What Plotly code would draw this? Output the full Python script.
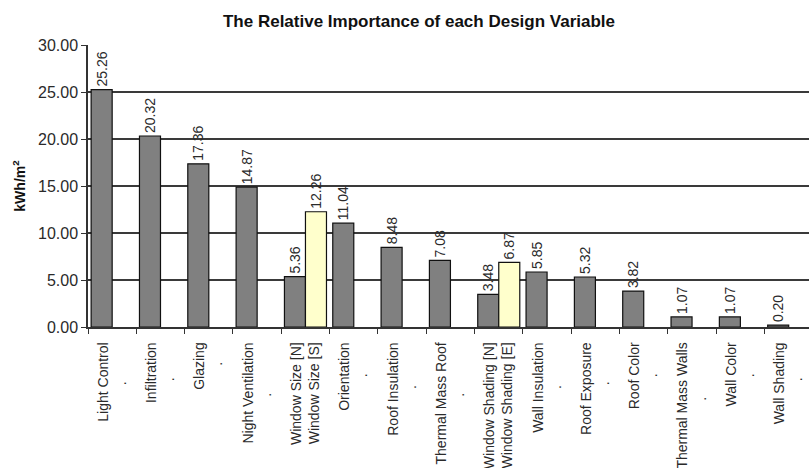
import plotly.graph_objects as go

label_lines = [
    ["Light Control"], ["Infiltration"], ["Glazing"], ["Night Ventilation"],
    ["Window Size [N]", "Window Size [S]"], ["Orientation"], ["Roof Insulation"],
    ["Thermal Mass Roof"], ["Window Shading [N]", "Window Shading [E]"],
    ["Wall Insulation"], ["Roof Exposure"], ["Roof Color"], ["Thermal Mass Walls"],
    ["Wall Color"], ["Wall Shading"],
]
primary_values = [25.26, 20.32, 17.36, 14.87, 5.36, 11.04, 8.48, 7.08,
                  3.48, 5.85, 5.32, 3.82, 1.07, 1.07, 0.20]
secondary_values = [None, None, None, None, 12.26, None, None, None,
                    6.87, None, None, None, None, None, None]
y_ticks = [0, 5, 10, 15, 20, 25, 30]


def make_label(lines):
    # single-line labels carry a centred "." second line, as in the source chart
    if len(lines) == 1:
        pad = "\u00a0" * round(len(lines[0]) * 0.75)
        return lines[0] + "<br>." + pad
    return "<br>".join(lines)


categories = [make_label(l) for l in label_lines]

font_family = "Liberation Sans, Arial, sans-serif"
text_color = "#2a2a2a"

fig = go.Figure()
for vals, color in ((primary_values, "#808080"), (secondary_values, "#FFFFCC")):
    fig.add_trace(go.Bar(
        x=categories, y=vals,
        marker=dict(color=color, line=dict(color="#111111", width=1.2)),
        texttemplate="%{y:.2f}", textposition="outside", textangle=-90,
        constraintext="none",
        textfont=dict(size=14, color=text_color, family=font_family),
        cliponaxis=False, showlegend=False,
    ))

fig.update_layout(
    width=809, height=468,
    margin=dict(l=88, r=0, t=45, b=141),
    paper_bgcolor="white", plot_bgcolor="white",
    barmode="group", bargap=0.13, bargroupgap=0.0,
    font=dict(family=font_family, color=text_color),
    title=dict(
        text="<b>The Relative Importance of each Design Variable</b>",
        x=419 / 809, xref="container", xanchor="center",
        y=1 - 21 / 468, yref="container", yanchor="middle",
        font=dict(size=17, color="#111111", family=font_family),
    ),
    xaxis=dict(
        type="category", range=[-0.5, 14.42],
        tickson="boundaries", ticks="outside", ticklen=5,
        tickcolor="#333333", tickwidth=1.2,
        tickangle=-90, tickfont=dict(size=14, color=text_color),
        ticklabelstandoff=8,
        showline=True, linecolor="#333333", linewidth=1.5,
        showgrid=False, zeroline=False,
    ),
    yaxis=dict(
        range=[0, 30], tickvals=y_ticks, tickformat=".2f",
        ticks="outside", ticklen=5, tickcolor="#333333", tickwidth=1.2,
        tickfont=dict(size=16, color=text_color),
        showline=True, linecolor="#333333", linewidth=1.5,
        showgrid=True, gridcolor="#3a3a3a", gridwidth=1.5,
        zeroline=False,
        title=dict(text="<b>kWh/m<sup>2</sup></b>", font=dict(size=14, color="#111111"),
                   standoff=9),
    ),
)

fig.write_html("out.html")
